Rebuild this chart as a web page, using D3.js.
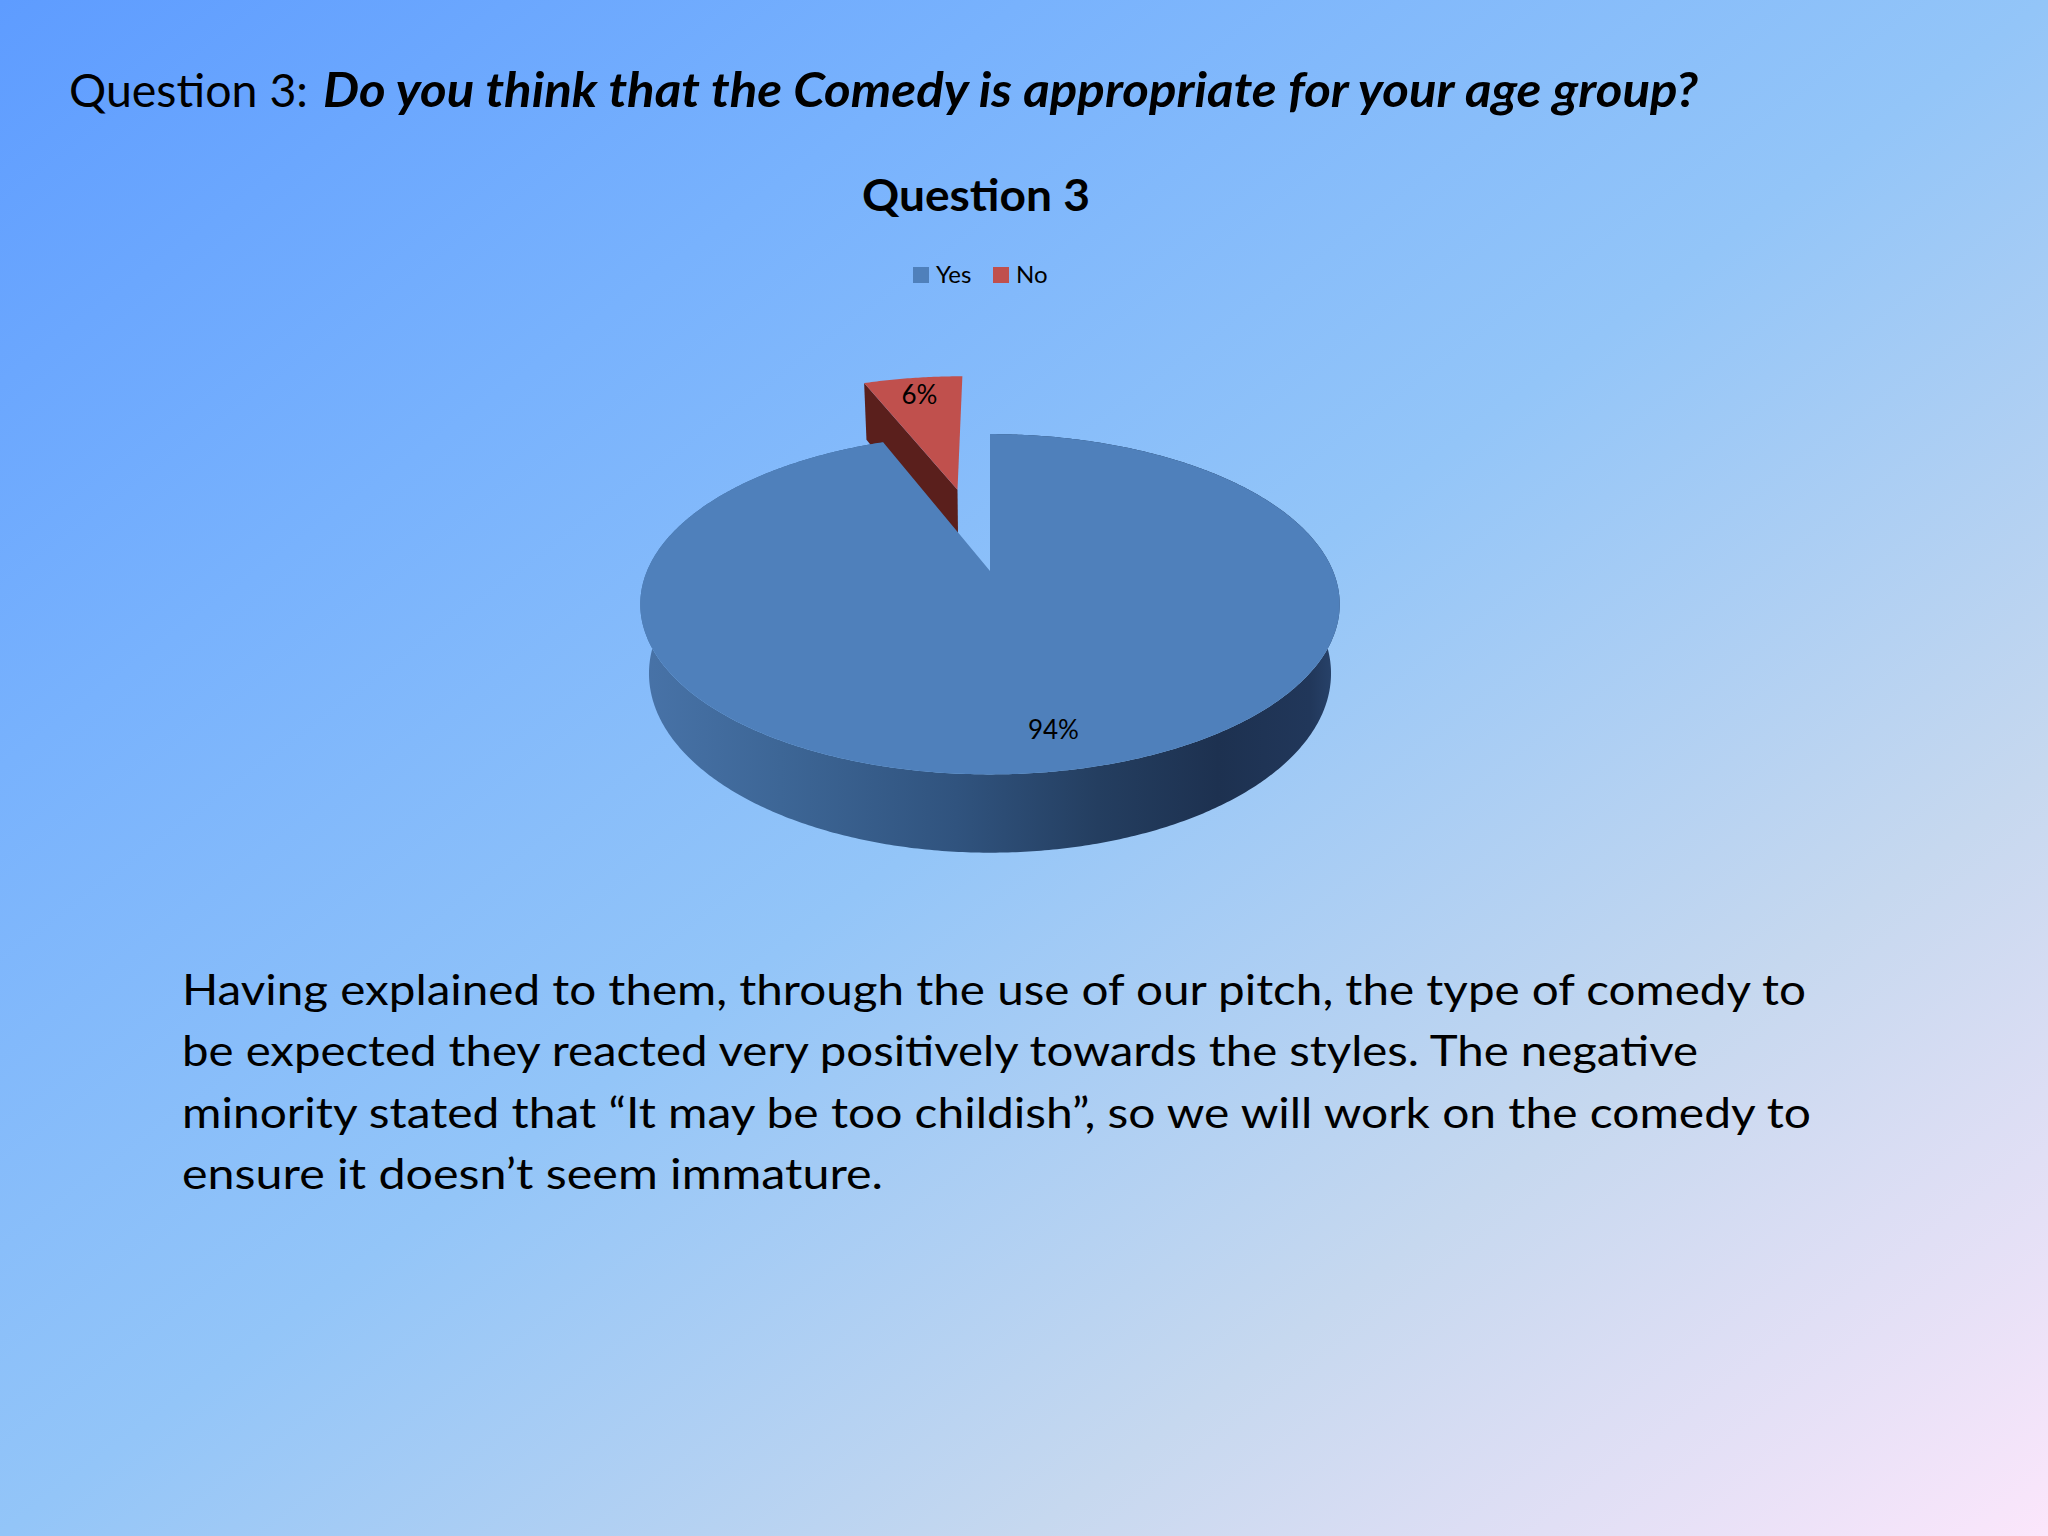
<!DOCTYPE html>
<html>
<head>
<meta charset="utf-8">
<script src="https://cdn.jsdelivr.net/npm/d3@7"></script>
<style>
  body { margin: 0; }
  svg { display: block; }
  text { font-family: Lato, "Open Sans", sans-serif; }
</style>
</head>
<body>
<div id="slide"></div>
<script>
// chart data
const categories = ["Yes", "No"];
const values = [94, 6];
const valueLabels = ["94%", "6%"];
const explodeBy = [0, 0.56];

const heading = ["Question 3:", "Do you think that the Comedy is appropriate for your age group?"];
const chartTitle = "Question 3";
const paragraph = [
  "Having explained to them, through the use of our pitch, the type of comedy to",
  "be expected they reacted very positively towards the styles. The negative",
  "minority stated that \u201cIt may be too childish\u201d, so we will work on the comedy to",
  "ensure it doesn\u2019t seem immature."
];

const W = 2048, H = 1536;

const svg = d3.select("#slide")
    .append("svg")
    .attr("width", W)
    .attr("height", H);

const defs = svg.append("defs");

// slide background
const bg = defs.append("linearGradient")
    .attr("id", "bg")
    .attr("x1", 0).attr("y1", 0).attr("x2", 1).attr("y2", 1);
[[0, "#5e9cff"], [0.25, "#78b2fd"], [0.5, "#93c5f8"], [0.75, "#c6d8ef"], [1, "#fbe6fb"]]
    .forEach(([o, c]) => bg.append("stop").attr("offset", o).attr("stop-color", c));
svg.append("rect").attr("width", W).attr("height", H).attr("fill", "url(#bg)");

// side wall shading
const wall = defs.append("linearGradient")
    .attr("id", "wall")
    .attr("gradientUnits", "userSpaceOnUse")
    .attr("x1", 640).attr("y1", 0).attr("x2", 1345).attr("y2", 0);
[[0, "#4873a8"], [0.2, "#3d6696"], [0.45, "#30537e"], [0.65, "#243e60"], [0.82, "#1d3150"], [0.95, "#21375a"], [1, "#2b4872"]]
    .forEach(([o, c]) => wall.append("stop").attr("offset", o).attr("stop-color", c));

// headline text
svg.append("text")
    .attr("x", 69).attr("y", 107)
    .attr("font-size", 47)
    .attr("textLength", 239).attr("lengthAdjust", "spacingAndGlyphs")
    .text(heading[0]);
svg.append("text")
    .attr("x", 323).attr("y", 107)
    .attr("font-size", 47)
    .attr("font-weight", "bold").attr("font-style", "italic")
    .attr("textLength", 1375).attr("lengthAdjust", "spacingAndGlyphs")
    .text(heading[1]);

// chart title
svg.append("text")
    .attr("x", 976).attr("y", 211)
    .attr("text-anchor", "middle")
    .attr("font-size", 44)
    .attr("font-weight", "bold")
    .attr("textLength", 228).attr("lengthAdjust", "spacingAndGlyphs")
    .text(chartTitle);

const color = d3.scaleOrdinal()
    .domain(categories)
    .range(["#4f80bb", "#c0504d"]);
const cutColor = d3.scaleOrdinal()
    .domain(categories)
    .range(["#2d4e78", "#5a1f1c"]);

// legend
const legendX = d3.scalePoint().domain(categories).range([913, 993]);
const legend = svg.append("g")
    .selectAll("g")
    .data(categories)
    .join("g")
    .attr("transform", d => `translate(${legendX(d)}, 267)`);
legend.append("rect")
    .attr("width", 16).attr("height", 16)
    .attr("fill", d => color(d));
legend.append("text")
    .attr("x", 23).attr("y", 16)
    .attr("font-size", 24)
    .text(d => d);

// 3D pie: d3.pie gives the angles, a small perspective camera places them
const cx = 990, cy = 571, unit = 343;
const px = d3.scaleLinear().domain([-1, 1]).range([cx - unit, cx + unit]);
const py = d3.scaleLinear().domain([-1, 1]).range([cy + unit, cy - unit]);
const tilt = 28.5 * Math.PI / 180, dist = 4.5, depth = 0.232;

function project(X, Y, Z) {
    const v = Y * Math.sin(tilt) + Z * Math.cos(tilt);
    const w = dist + Y * Math.cos(tilt) - Z * Math.sin(tilt);
    return [px(X * dist / w), py(v * dist / w)];
}

const arcs = d3.pie().sort(null).value(d => d)(values)
    .map((a, i) => {
        const mid = (a.startAngle + a.endAngle) / 2;
        return {
            ...a, name: categories[i], label: valueLabels[i], mid,
            ex: explodeBy[i] * Math.sin(mid), ey: explodeBy[i] * Math.cos(mid)
        };
    });

function pt(a, ang, r, Z) {
    return project(a.ex + r * Math.sin(ang), a.ey + r * Math.cos(ang), Z);
}
function rim(a) {
    const n = Math.max(4, Math.ceil((a.endAngle - a.startAngle) / 0.01));
    return d3.range(n + 1).map(k => a.startAngle + (a.endAngle - a.startAngle) * k / n);
}
const line = d3.line();

const pie = svg.append("g");

// draw the back (exploded) slice first, the big slice over it
[...arcs].reverse().forEach(a => {
    const angs = rim(a);
    const g = pie.append("g");
    const small = a.endAngle - a.startAngle < Math.PI;
    if (small) {
        // cut face at the start angle faces the viewer
        g.append("path")
            .attr("d", line([
                pt(a, a.startAngle, 0, 0), pt(a, a.startAngle, 1, 0),
                pt(a, a.startAngle, 1, -depth), pt(a, a.startAngle, 0, -depth)
            ]) + "Z")
            .attr("fill", cutColor(a.name));
    } else {
        // outer wall
        g.append("path")
            .attr("d", line([
                ...angs.map(t => pt(a, t, 1, 0)),
                ...angs.slice().reverse().map(t => pt(a, t, 1, -depth))
            ]) + "Z")
            .attr("fill", "url(#wall)");
    }
    // top face
    g.append("path")
        .attr("d", line([pt(a, 0, 0, 0), ...angs.map(t => pt(a, t, 1, 0))]) + "Z")
        .attr("fill", color(a.name));
});

// value labels
pie.selectAll("text.val")
    .data(arcs)
    .join("text")
    .attr("class", "val")
    .attr("x", a => pt(a, a.mid, 0.83, 0)[0])
    .attr("y", a => pt(a, a.mid, 0.83, 0)[1])
    .attr("dy", "0.35em")
    .attr("text-anchor", "middle")
    .attr("font-size", 26)
    .text(a => a.label);

// explanation paragraph
const lineEnds = [1806, 1698, 1811, 883];
svg.append("g")
    .selectAll("text")
    .data(paragraph)
    .join("text")
    .attr("x", 182)
    .attr("y", (d, i) => 1005 + i * 61.3)
    .attr("font-size", 43)
    .attr("textLength", (d, i) => lineEnds[i] - 182)
    .attr("lengthAdjust", "spacingAndGlyphs")
    .text(d => d);
</script>
</body>
</html>
